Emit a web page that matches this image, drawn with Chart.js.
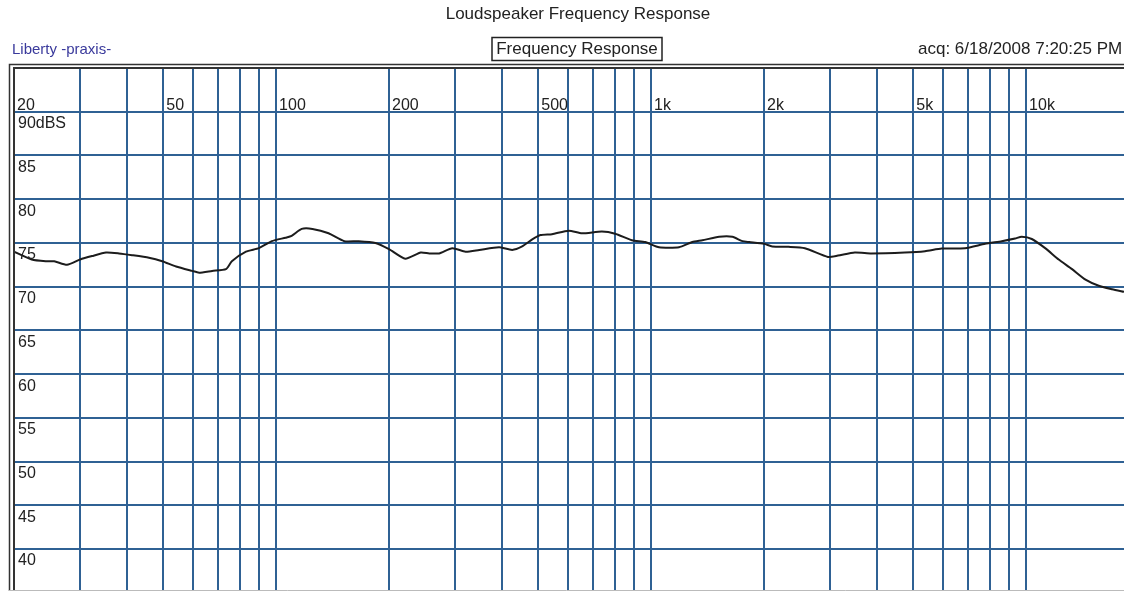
<!DOCTYPE html>
<html>
<head>
<meta charset="utf-8">
<script src="https://cdn.jsdelivr.net/npm/chart.js@4.4.1/dist/chart.umd.min.js"></script>
<style>
  body { margin: 0; background: #fff; overflow: hidden; }
  canvas { display: block; }
</style>
</head>
<body>
<canvas id="fr" width="1124" height="591"></canvas>
<script>
var freqs = [20, 22.3, 24.3, 25.6, 27.7, 30, 32.3, 35.2, 38.1, 41.3, 45.8, 49.7, 54.1, 59.7, 62.3, 67.5, 73.5, 76.2, 83.1, 90,
  97.4, 106, 110, 117, 125, 138, 152, 166, 184, 200, 221, 243, 256, 272, 295, 320, 348, 393, 426, 453,
  482, 507, 544, 603, 654, 739, 802, 889, 964, 1050, 1187, 1288, 1370, 1518, 1648, 1752, 1828, 2000, 2104, 2324,
  2570, 2960, 3150, 3492, 3866, 4752, 5376, 5954, 6874, 7772, 8610, 9346, 9734, 10356, 11240, 12216, 13260, 14400, 15620, 16960, 18240];
var levels = [74.0, 73.1, 72.9, 72.9, 72.5, 73.1, 73.5, 73.9, 73.8, 73.6, 73.3, 72.9, 72.3, 71.8, 71.6, 71.8, 72.0, 72.9, 74.0, 74.4,
  75.2, 75.6, 75.8, 76.6, 76.6, 76.1, 75.2, 75.2, 75.0, 74.3, 73.2, 73.9, 73.8, 73.8, 74.4, 74.0, 74.2, 74.5, 74.2, 74.6,
  75.4, 75.9, 76.0, 76.4, 76.1, 76.3, 76.05, 75.3, 75.1, 74.5, 74.5, 75.1, 75.3, 75.7, 75.7, 75.2, 75.1, 74.9, 74.6, 74.55,
  74.4, 73.4, 73.55, 73.9, 73.8, 73.9, 74.05, 74.35, 74.4, 74.9, 75.2, 75.5, 75.7, 75.45, 74.4, 73.1, 72.0, 70.8, 70.1, 69.7, 69.4];

var freqGrid = [20, 30, 40, 50, 60, 70, 80, 90, 100, 200, 300, 400, 500, 600, 700, 800, 900,
  1000, 2000, 3000, 4000, 5000, 6000, 7000, 8000, 9000, 10000];
var freqLabels = [20, 50, 100, 200, 500, 1000, 2000, 5000, 10000];
var dbTicks = [40, 45, 50, 55, 60, 65, 70, 75, 80, 85, 90];

var pts = [];
for (var i = 0; i < freqs.length; i++) {
  pts.push({x: freqs[i], y: levels[i]});
}

var gridBlue = '#2f6194';

var decor = {
  id: 'decor',
  afterDraw: function(chart) {
    var ctx = chart.ctx;
    var xs = chart.scales.x, ys = chart.scales.y;
    var a = chart.chartArea;
    ctx.save();

    // frame (double line top and left)
    ctx.strokeStyle = '#333';
    ctx.lineWidth = 1.5;
    ctx.beginPath();
    ctx.moveTo(9.5, 591); ctx.lineTo(9.5, 64.5); ctx.lineTo(1124, 64.5);
    ctx.stroke();
    ctx.lineWidth = 2;
    ctx.beginPath();
    ctx.moveTo(a.left, 591); ctx.lineTo(a.left, a.top); ctx.lineTo(1124, a.top);
    ctx.stroke();
    ctx.strokeStyle = '#bbb';
    ctx.lineWidth = 1;
    ctx.beginPath();
    ctx.moveTo(9, 590.5); ctx.lineTo(1124, 590.5);
    ctx.stroke();

    // frequency labels, just right of their lines
    ctx.fillStyle = '#222';
    ctx.font = '16px "Liberation Sans", Arial, sans-serif';
    ctx.textAlign = 'left';
    ctx.textBaseline = 'alphabetic';
    var y90 = ys.getPixelForValue(90);
    freqLabels.forEach(function(f) {
      var t = f >= 1000 ? (f / 1000) + 'k' : String(f);
      ctx.fillText(t, xs.getPixelForValue(f) + 3, y90 - 2);
    });

    // level labels, just below their lines
    ctx.textBaseline = 'top';
    dbTicks.forEach(function(v) {
      var t = v === 90 ? '90dBS' : String(v);
      ctx.fillText(t, a.left + 4, ys.getPixelForValue(v) + 4);
    });

    // header texts
    ctx.font = '17px "Liberation Sans", Arial, sans-serif';
    ctx.textBaseline = 'middle';
    ctx.textAlign = 'center';
    ctx.fillText('Loudspeaker Frequency Response', 578, 14);
    ctx.fillText('Frequency Response', 577, 49);
    ctx.strokeStyle = '#222';
    ctx.lineWidth = 1.5;
    ctx.strokeRect(492, 37.5, 170, 23);

    ctx.textAlign = 'left';
    ctx.fillStyle = '#3a3a9c';
    ctx.font = '15px "Liberation Sans", Arial, sans-serif';
    ctx.fillText('Liberty -praxis-', 12, 50);
    ctx.fillStyle = '#222';
    ctx.font = '17px "Liberation Sans", Arial, sans-serif';
    ctx.fillText('acq: 6/18/2008 7:20:25 PM', 918, 49);
    ctx.restore();
  }
};

new Chart(document.getElementById('fr').getContext('2d'), {
  type: 'line',
  data: {
    datasets: [{
      data: pts,
      borderColor: '#1c1c1c',
      borderWidth: 2,
      pointRadius: 0,
      tension: 0.2,
      fill: false
    }]
  },
  options: {
    responsive: false,
    animation: false,
    devicePixelRatio: 1,
    layout: { padding: { top: 68, left: 14, right: 0, bottom: 0 } },
    plugins: { legend: { display: false }, tooltip: { enabled: false } },
    scales: {
      x: {
        type: 'logarithmic',
        min: 20,
        max: 18240,
        afterBuildTicks: function(s) { s.ticks = freqGrid.map(function(v) { return {value: v}; }); },
        ticks: { display: false },
        grid: { color: gridBlue, lineWidth: 2, drawTicks: false },
        border: { display: false }
      },
      y: {
        type: 'linear',
        min: 35.2,
        max: 95.0,
        afterBuildTicks: function(s) { s.ticks = dbTicks.map(function(v) { return {value: v}; }); },
        ticks: { display: false },
        grid: { color: gridBlue, lineWidth: 2, drawTicks: false },
        border: { display: false }
      }
    }
  },
  plugins: [decor]
});
</script>
</body>
</html>
